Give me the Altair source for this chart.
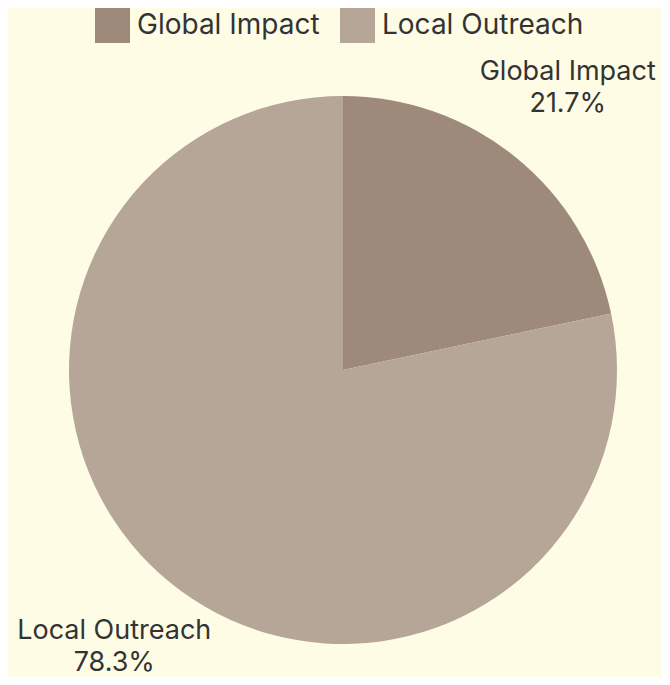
import altair as alt
import pandas as pd

categories = ["Global Impact", "Local Outreach"]
values = [21.7, 78.3]
pct_labels = ["21.7%", "78.3%"]
colors = ["#9D8A7B", "#B6A697"]
label_dy = [-16, -21]
label_dx = [-4, 0]

df = pd.DataFrame({
    "category": categories,
    "value": values,
    "label": [c + "\n" + p for c, p in zip(categories, pct_labels)],
})

FONT = "Inter"
CX, CY = 335, 362

base = alt.Chart(df).encode(
    theta=alt.Theta("value:Q", stack=True),
    order=alt.Order("category:N", sort="ascending"),
)

arc = base.mark_arc(radius=274, stroke=None).encode(
    x=alt.value(CX),
    y=alt.value(CY),
    color=alt.Color(
        "category:N",
        scale=alt.Scale(domain=categories, range=colors),
        legend=alt.Legend(
            title=None,
            orient="none",
            legendX=87,
            legendY=0,
            direction="horizontal",
            symbolType="square",
            symbolSize=1225,
            symbolStrokeWidth=0,
            symbolOpacity=1,
            labelFontSize=28,
            labelFont=FONT,
            labelColor="#333333",
            labelOffset=7,
            labelLimit=400,
            columnPadding=20,
        ),
    ),
)


def label_layer(cat, dx, dy):
    return base.mark_text(
        radius=363,
        fontSize=27,
        font=FONT,
        color="#333333",
        lineBreak="\n",
        lineHeight=32,
        align="center",
        baseline="middle",
        dx=dx,
        dy=dy,
    ).encode(
        x=alt.value(CX),
        y=alt.value(CY),
        text=alt.condition(alt.datum.category == cat, "label:N", alt.value("")),
    )


layers = [arc] + [label_layer(c, x, y) for c, x, y in zip(categories, label_dx, label_dy)]

chart = (
    alt.layer(*layers)
    .properties(width=654, height=669, background="#FEFCE5", padding=0,
                autosize=alt.AutoSizeParams(type="none"))
    .configure_view(stroke=None)
)

chart.save("out.html", embed_options={"renderer": "svg", "actions": False})
